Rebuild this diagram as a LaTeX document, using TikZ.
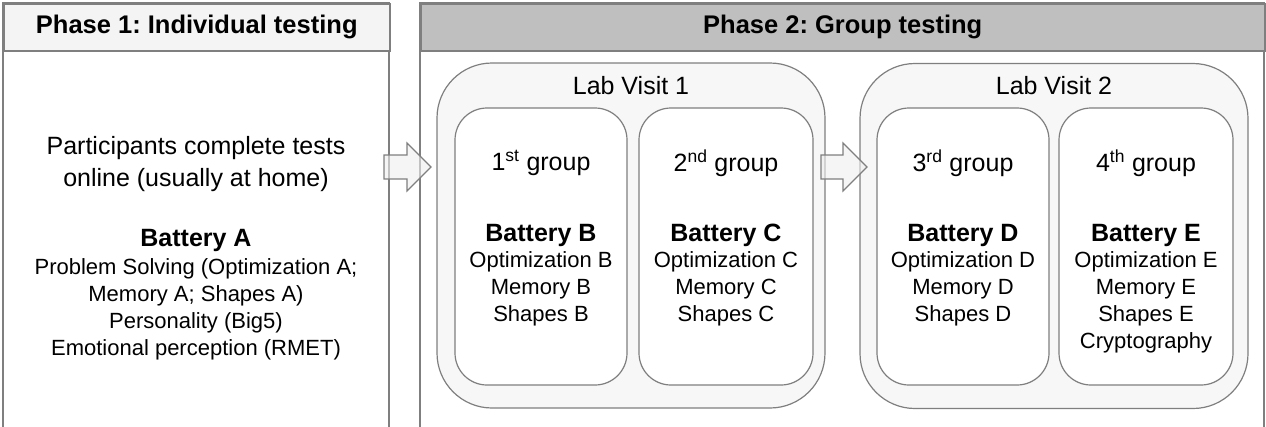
\documentclass[tikz,border=0pt]{standalone}
\usepackage{fontspec}
\setmainfont{Liberation Sans}
\usepackage{tikz}
\frenchspacing

\definecolor{linegray}{HTML}{7F7F7F}
\definecolor{headlight}{HTML}{F4F4F4}
\definecolor{headdark}{HTML}{BFBFBF}
\definecolor{visitfill}{HTML}{F7F7F7}
\definecolor{arrowfill}{HTML}{EEEEEE}

\tikzset{
    panel/.style={draw=linegray, line width=1.5pt},
    headtext/.style={font=\fontsize{25.5}{30}\selectfont\bfseries, inner sep=0pt},
    visitbox/.style={draw=linegray, fill=visitfill, line width=1.2pt, rounded corners=55pt,
        minimum width=388pt, minimum height=345pt, inner sep=0pt},
    groupbox/.style={draw=linegray, fill=white, line width=1.2pt, rounded corners=32pt,
        minimum height=277pt, inner sep=0pt},
    bigtext/.style={font=\fontsize{25}{32}\selectfont, align=center},
    battitle/.style={font=\fontsize{25}{30}\selectfont\bfseries},
    battlist/.style={font=\fontsize{22}{27}\selectfont, align=center},
    blockarrow/.style={draw=linegray, fill=arrowfill, fill opacity=0.6, line width=1.2pt}
}

\begin{document}
\begin{tikzpicture}[x=1pt, y=-1pt]
    \useasboundingbox (0,0) rectangle (1266,426);

    % Phase 1
    \draw[panel] (3,3) rectangle (389,432);
    \node[panel, headtext, fill=headlight, minimum width=386pt, minimum height=47pt, anchor=north west]
        (phase1) at (3,3) {Phase 1: Individual testing};
    \node[bigtext] (intro) at (196,164) {Participants complete tests\\online (usually at home)};
    \node[battitle] (batA) at (196,240) {Battery A};
    \node[battlist] (listA) at (196,309) {Problem Solving (Optimization A;\\Memory A; Shapes A)\\Personality (Big5)\\Emotional perception (RMET)};

    % Phase 2
    \draw[panel] (420,3) rectangle (1264,432);
    \node[panel, headtext, fill=headdark, minimum width=844pt, minimum height=47pt, anchor=north west]
        (phase2) at (420,3) {Phase 2: Group testing};

    \node[visitbox] (visit1) at (631,235.5) {};
    \node[visitbox] (visit2) at (1054,236) {};
    \node[bigtext] (visit1label) at (631,86) {Lab Visit 1};
    \node[bigtext] (visit2label) at (1054,86) {Lab Visit 2};

    % one box per group
    \foreach \x/\w/\n/\s/\l in {541/172/1/st/B, 726/174/2/nd/C, 963/172/3/rd/D, 1146/174/4/th/E} {
        \node[groupbox, minimum width=\w pt] (group\l) at (\x,246.5) {};
        \node[bigtext] (label\l) at (\x,163) {\n\textsuperscript{\s} group};
        \node[battitle] (bat\l) at (\x,235) {Battery \l};
        \node[battlist] (list\l) at (\x,289) {Optimization \l\\Memory \l\\Shapes \l};
    }
    \node[battlist] (crypt) at (1146,343) {Cryptography};

    % arrows between phases and visits
    \draw[blockarrow] (384,155) -- (407,155) -- (407,143) -- (431,167) -- (407,191) -- (407,179) -- (384,179) -- cycle;
    \draw[blockarrow] (821,155) -- (843,155) -- (843,143) -- (867,167) -- (843,191) -- (843,179) -- (821,179) -- cycle;
\end{tikzpicture}
\end{document}
